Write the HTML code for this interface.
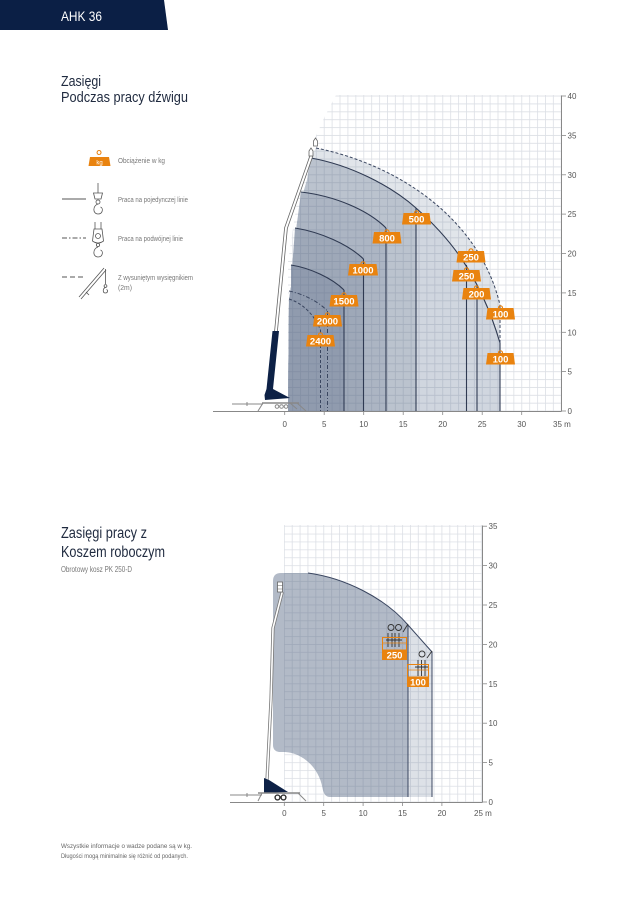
<!DOCTYPE html>
<html><head><meta charset="utf-8"><style>
html,body{margin:0;padding:0;background:#fff;}
svg{display:block;}
text{font-family:"Liberation Sans",sans-serif;}
</style></head><body>
<svg width="637" height="900" viewBox="0 0 637 900" xmlns="http://www.w3.org/2000/svg">
<defs>
<pattern id="g1" x="284.3" y="95.6" width="7.9" height="7.875" patternUnits="userSpaceOnUse">
<path d="M0.4,0 V7.875 M0,0.4 H7.9" stroke="rgba(80,95,125,0.2)" stroke-width="0.8" fill="none"/>
</pattern>
<pattern id="g2" x="283.9" y="525.8" width="7.88" height="7.88" patternUnits="userSpaceOnUse">
<path d="M0.4,0 V7.88 M0,0.4 H7.88" stroke="rgba(80,95,125,0.2)" stroke-width="0.8" fill="none"/>
</pattern>
<clipPath id="c1"><polygon points="336,95 562,95 562,411 288,411 288,262 299,188 314,140 325,116"/></clipPath>
</defs>

<!-- header -->
<polygon points="0,0 164,0 168,30 0,30" fill="#0b1f45"/>
<text x="61" y="21" font-size="14" fill="#fff" textLength="41" lengthAdjust="spacingAndGlyphs">AHK 36</text>

<!-- titles -->
<text x="61" y="86" font-size="15" fill="#1f2a3f" textLength="40" lengthAdjust="spacingAndGlyphs">Zasięgi</text>
<text x="61" y="102" font-size="15" fill="#1f2a3f" textLength="127" lengthAdjust="spacingAndGlyphs">Podczas pracy dźwigu</text>

<!-- legend -->
<g>
<path d="M99,154.5 a2,2 0 1 1 0.1,0" fill="none" stroke="#e9830f" stroke-width="1"/>
<path d="M90,157 H109 L110.5,166 H88.5 Z" fill="#e9830f"/>
<text x="99.5" y="164.5" font-size="6" fill="#fff" text-anchor="middle">kg</text>
<text x="118" y="163" font-size="7" fill="#777" textLength="47" lengthAdjust="spacingAndGlyphs">Obciążenie w  kg</text>

<line x1="62" y1="199" x2="86" y2="199" stroke="#555" stroke-width="1"/>
<g stroke="#555" stroke-width="0.8" fill="none">
<line x1="98" y1="183" x2="98" y2="193"/>
<path d="M93.5,193 H102.5 L101,199 H95 Z" fill="#fff"/>
<circle cx="98" cy="202" r="2"/>
<path d="M98,204 C92.5,205.5 92.5,214 98,214 C103,214 103.5,208 100.5,207"/>
</g>
<text x="118" y="202" font-size="7" fill="#777" textLength="70" lengthAdjust="spacingAndGlyphs">Praca na pojedynczej linie</text>

<line x1="62" y1="238" x2="86" y2="238" stroke="#555" stroke-width="1" stroke-dasharray="5,2,1.5,2"/>
<g stroke="#555" stroke-width="0.8" fill="none">
<line x1="95" y1="222" x2="95" y2="229"/><line x1="101" y1="222" x2="101" y2="229"/>
<path d="M94,229 H102 L103.5,241 Q98,245 92.5,241 Z" fill="#fff"/>
<circle cx="98" cy="236" r="2.5"/>
<circle cx="98" cy="245" r="1.6"/>
<path d="M98,247 C92.5,248.5 92.5,257 98,257 C103,257 103.5,251 100.5,250"/>
</g>
<text x="118" y="241" font-size="7" fill="#777" textLength="65" lengthAdjust="spacingAndGlyphs">Praca na podwójnej linie</text>

<line x1="62" y1="277" x2="86" y2="277" stroke="#555" stroke-width="1" stroke-dasharray="5,3"/>
<g stroke="#555" stroke-width="0.8" fill="none">
<line x1="79" y1="297" x2="104" y2="268"/><line x1="81" y1="299" x2="106" y2="270"/>
<line x1="86" y1="292" x2="89" y2="295"/>
<line x1="105.5" y1="269" x2="105.5" y2="284"/>
<circle cx="105.5" cy="286" r="1.4"/>
<path d="M105.5,287.5 C102.5,288.5 102.5,293 105.5,293 C108,293 108,290 106.5,289.5"/>
</g>
<text x="118" y="280" font-size="7" fill="#777" textLength="75" lengthAdjust="spacingAndGlyphs">Z wysuniętym wysięgnikiem</text>
<text x="118" y="290" font-size="7" fill="#777" textLength="14" lengthAdjust="spacingAndGlyphs">(2m)</text>
</g>

<!-- ================= TOP CHART ================= -->
<path d="M316,148 C400,165 480,220 500,305 L500,411 L288,411 L289,300 L291,287 L293,257 L297,223 L302,197 L307,180 L311,157 Z" fill="#e1e5ea"/>
<path d="M311,158 C350,165 390,185 416,208 C443,232 478,268 500,343 L500,411 L288,411 L289,300 L291,287 L293,257 L297,223 L302,197 L307,180 Z" fill="#d0d6df"/>
<path d="M311,158 C350,165 390,185 416,208 L416,411 L288,411 L289,300 L291,287 L293,257 L297,223 L302,197 L307,180 Z" fill="#bbc3ce"/>
<path d="M301,192 C335,196 368,210 386,228 L386,411 L288,411 L289,300 L291,287 L293,257 L297,223 Z" fill="#acb5c3"/>
<path d="M295,228 C320,232 348,244 363.5,259 L363.5,411 L288,411 L289,300 L291,287 L293,257 Z" fill="#9ea8b8"/>
<path d="M291,265 C310,268 332,278 344,290 L344,411 L288,411 L289,300 L291,287 Z" fill="#909bae"/>

<rect x="284" y="95" width="278" height="317" fill="url(#g1)" clip-path="url(#c1)"/>

<g fill="none" stroke="#2f3a52" stroke-width="1.1">
<path d="M311,158 C350,165 390,185 416,208 C443,232 478,268 500,343"/>
<path d="M301,192 C335,196 368,210 386,228"/>
<path d="M295,228 C320,232 348,244 363.5,259"/>
<path d="M291,265 C310,268 332,278 344,290"/>
<line x1="416" y1="208" x2="416" y2="411"/>
<line x1="386" y1="228" x2="386" y2="411"/>
<line x1="363.5" y1="259" x2="363.5" y2="411"/>
<line x1="344" y1="290" x2="344" y2="411"/>
<line x1="466.5" y1="265" x2="466.5" y2="411"/>
<line x1="477" y1="285" x2="477" y2="411"/>
<line x1="500" y1="343" x2="500" y2="411"/>
</g>
<g fill="none" stroke="#3a4660" stroke-width="1">
<path d="M316,148 C400,165 480,220 500,305" stroke-dasharray="3,2"/>
<line x1="500" y1="305" x2="500" y2="343" stroke-dasharray="3,2"/>
<path d="M289,291 C303,294 318,301 327.5,311" stroke-dasharray="4,2,1,2"/>
<line x1="327.5" y1="311" x2="327.5" y2="411" stroke-dasharray="4,2,1,2"/>
<path d="M289,299 C302,303 314,314 320.5,330" stroke-dasharray="3,2"/>
<line x1="320.5" y1="330" x2="320.5" y2="411" stroke-dasharray="3,2"/>
</g>

<g fill="none" stroke-linecap="round">
<polyline points="311,157 286,228 276,331" stroke="#666" stroke-width="3.6"/>
<polyline points="311,157 286,228 276,331" stroke="#fff" stroke-width="2"/>
<path d="M313.5,141 l2,-3 l2,3 v5 h-4 z" stroke="#666" stroke-width="0.8" fill="#fff"/>
<path d="M309,151 l2,-3 l2,3 v5 h-4 z" stroke="#666" stroke-width="0.8" fill="#fff"/>
</g>
<polygon points="272.5,331 279,331 273,389 290,398 265,400 264.5,395 266.5,389" fill="#0d2146"/>
<g stroke="#888" stroke-width="1" fill="none">
<line x1="232" y1="404" x2="263" y2="404"/>
<line x1="262" y1="403" x2="299" y2="403" stroke-width="1.6"/>
<line x1="263" y1="403" x2="258" y2="411"/>
<line x1="297" y1="403" x2="306" y2="411"/>
<line x1="290" y1="403" x2="297" y2="409"/>
<circle cx="277" cy="406.5" r="1.8"/><circle cx="281.5" cy="406.5" r="1.8"/><circle cx="286" cy="406.5" r="1.8"/>
<line x1="247" y1="402" x2="247" y2="406"/>
</g>

<line x1="213" y1="411.5" x2="561.5" y2="411.5" stroke="#888" stroke-width="1"/>
<line x1="561.5" y1="95.5" x2="561.5" y2="411.5" stroke="#888" stroke-width="1"/>
<g stroke="#888" stroke-width="0.8">
<line x1="561.5" y1="96" x2="566" y2="96"/><line x1="561.5" y1="135.4" x2="566" y2="135.4"/>
<line x1="561.5" y1="174.8" x2="566" y2="174.8"/><line x1="561.5" y1="214.1" x2="566" y2="214.1"/>
<line x1="561.5" y1="253.5" x2="566" y2="253.5"/><line x1="561.5" y1="292.9" x2="566" y2="292.9"/>
<line x1="561.5" y1="332.3" x2="566" y2="332.3"/><line x1="561.5" y1="371.6" x2="566" y2="371.6"/>
<line x1="561.5" y1="411" x2="566" y2="411"/>
<line x1="284.7" y1="411.5" x2="284.7" y2="415"/><line x1="324.2" y1="411.5" x2="324.2" y2="415"/>
<line x1="363.7" y1="411.5" x2="363.7" y2="415"/><line x1="403.2" y1="411.5" x2="403.2" y2="415"/>
<line x1="442.7" y1="411.5" x2="442.7" y2="415"/><line x1="482.2" y1="411.5" x2="482.2" y2="415"/>
<line x1="521.7" y1="411.5" x2="521.7" y2="415"/>
</g>
<g font-size="8" fill="#555">
<text x="567.5" y="99">40</text><text x="567.5" y="138.4">35</text><text x="567.5" y="177.8">30</text>
<text x="567.5" y="217.1">25</text><text x="567.5" y="256.5">20</text><text x="567.5" y="295.9">15</text>
<text x="567.5" y="335.3">10</text><text x="567.5" y="374.6">5</text><text x="567.5" y="414">0</text>
</g>
<g font-size="8" fill="#555" text-anchor="middle">
<text x="284.7" y="427">0</text><text x="324.2" y="427">5</text><text x="363.7" y="427">10</text>
<text x="403.2" y="427">15</text><text x="442.7" y="427">20</text><text x="482.2" y="427">25</text>
<text x="521.7" y="427">30</text>
</g>
<text x="553" y="427" font-size="8" fill="#555">35 m</text>

<g fill="#e9830f">
<path d="M403.5,213 H429.5 L431,224.5 H402 Z"/>
<path d="M374,232 H400 L401.5,243.5 H372.5 Z"/>
<path d="M349.5,264 H376.5 L378,275.5 H348 Z"/>
<path d="M331,295 H357 L358.5,306.5 H329.5 Z"/>
<path d="M314.5,315 H340.5 L342,326.5 H313 Z"/>
<path d="M307.5,335 H333.5 L335,346.5 H306 Z"/>
<path d="M458,251 H484 L485.5,262.5 H456.5 Z"/>
<path d="M453.5,270 H479.5 L481,281.5 H452 Z"/>
<path d="M463.5,288 H489.5 L491,299.5 H462 Z"/>
<path d="M487.5,308 H513.5 L515,319.5 H486 Z"/>
<path d="M487.5,353 H513.5 L515,364.5 H486 Z"/>
</g>
<g fill="none" stroke="#e9830f" stroke-width="1.2">
<path d="M414.5,213 a2,2.2 0 1 1 4,0"/>
<path d="M385,232 a2,2.2 0 1 1 4,0"/>
<path d="M361,264 a2,2.2 0 1 1 4,0"/>
<path d="M342,295 a2,2.2 0 1 1 4,0"/>
<path d="M325.5,315 a2,2.2 0 1 1 4,0"/>
<path d="M318.5,335 a2,2.2 0 1 1 4,0"/>
<path d="M469,251 a2,2.2 0 1 1 4,0"/>
<path d="M464.5,270 a2,2.2 0 1 1 4,0"/>
<path d="M474.5,288 a2,2.2 0 1 1 4,0"/>
<path d="M498.5,308 a2,2.2 0 1 1 4,0"/>
<path d="M498.5,353 a2,2.2 0 1 1 4,0"/>
</g>
<g font-size="9.5" font-weight="bold" fill="#fff" text-anchor="middle">
<text x="416.5" y="222.5">500</text>
<text x="387" y="241.5">800</text>
<text x="363" y="273.5">1000</text>
<text x="344" y="304.5">1500</text>
<text x="327.5" y="324.5">2000</text>
<text x="320.5" y="344.5">2400</text>
<text x="471" y="260.5">250</text>
<text x="466.5" y="279.5">250</text>
<text x="476.5" y="297.5">200</text>
<text x="500.5" y="317.5">100</text>
<text x="500.5" y="362.5">100</text>
</g>

<!-- ================= BOTTOM CHART ================= -->
<text x="61" y="538" font-size="15.5" fill="#1f2a3f" textLength="86" lengthAdjust="spacingAndGlyphs">Zasięgi pracy z</text>
<text x="61" y="557" font-size="15.5" fill="#1f2a3f" textLength="104" lengthAdjust="spacingAndGlyphs">Koszem roboczym</text>
<text x="61" y="572" font-size="8" fill="#777" textLength="71" lengthAdjust="spacingAndGlyphs">Obrotowy kosz PK 250-D</text>

<path d="M273,581 Q273,573 281,573 L308,573 C345,578 385,598 408,625 L408,797 L330,797 Q324,797 322.5,788 C319,768 303,753 285,752 L279,752 Q273,751 273,745 Z" fill="#b2bac7"/>
<path d="M408,625 L432,652 L432,797 L408,797 Z" fill="#dde1e7"/>
<rect x="284" y="525" width="198.5" height="277" fill="url(#g2)"/>
<g fill="none" stroke="#3a4660" stroke-width="1">
<path d="M308,573 C345,578 385,598 408,625 L432,652 L432,797"/>
<line x1="408" y1="625" x2="408" y2="797"/>
</g>
<g fill="none" stroke-linecap="round">
<polyline points="267,780 271,700 273,628 282,593" stroke="#777" stroke-width="3.2"/>
<polyline points="267,780 271,700 273,628 282,593" stroke="#fff" stroke-width="1.6"/>
<rect x="277.5" y="582" width="5" height="10" stroke="#666" stroke-width="0.8" fill="#fff"/>
<line x1="277.5" y1="585.5" x2="282.5" y2="585.5" stroke="#666" stroke-width="0.6"/>
<line x1="277.5" y1="589" x2="282.5" y2="589" stroke="#666" stroke-width="0.6"/>
</g>
<polygon points="264,778 269,780 288,792 264,793" fill="#0d2146"/>
<g stroke="#888" stroke-width="1" fill="none">
<line x1="230" y1="795" x2="262" y2="795"/>
<line x1="258" y1="793" x2="300" y2="793" stroke-width="1.6"/>
<line x1="262" y1="793" x2="258" y2="801"/>
<line x1="298" y1="793" x2="306" y2="801"/>
<line x1="247" y1="793" x2="247" y2="797"/>
</g>
<circle cx="277.5" cy="797.5" r="2.4" fill="#fff" stroke="#333" stroke-width="1.4"/>
<circle cx="283.5" cy="797.5" r="2.4" fill="#fff" stroke="#333" stroke-width="1.4"/>

<g fill="none" stroke="#333" stroke-width="0.9">
<circle cx="391" cy="627.5" r="3"/><circle cx="398.5" cy="627.5" r="3"/>
<line x1="403" y1="632" x2="408" y2="624"/>
<path d="M388,633 v14 M392,633 v14 M395,633 v14 M399,633 v14 M386,640 h16"/>
<circle cx="422" cy="654" r="3"/>
<line x1="427" y1="658" x2="432" y2="651"/>
<path d="M418,660 v16 M421.5,660 v16 M425,660 v16 M415,667 h13"/>
</g>
<rect x="382.5" y="637.5" width="24" height="12.5" fill="none" stroke="#e9830f" stroke-width="1"/>
<line x1="382.5" y1="643" x2="406.5" y2="643" stroke="#e9830f" stroke-width="0.8"/>
<rect x="382" y="650" width="25" height="10" fill="#e9830f"/>
<text x="394.5" y="658.5" font-size="9.5" font-weight="bold" fill="#fff" text-anchor="middle">250</text>
<rect x="407.5" y="664.5" width="21" height="12.5" fill="none" stroke="#e9830f" stroke-width="1"/>
<line x1="407.5" y1="670" x2="428.5" y2="670" stroke="#e9830f" stroke-width="0.8"/>
<rect x="407" y="677" width="22" height="10" fill="#e9830f"/>
<text x="418" y="685.5" font-size="9.5" font-weight="bold" fill="#fff" text-anchor="middle">100</text>

<line x1="230" y1="802.5" x2="482.5" y2="802.5" stroke="#888" stroke-width="1"/>
<line x1="482.5" y1="525.5" x2="482.5" y2="802.5" stroke="#888" stroke-width="1"/>
<g stroke="#888" stroke-width="0.8">
<line x1="482.5" y1="526.2" x2="487" y2="526.2"/><line x1="482.5" y1="565.6" x2="487" y2="565.6"/>
<line x1="482.5" y1="605" x2="487" y2="605"/><line x1="482.5" y1="644.4" x2="487" y2="644.4"/>
<line x1="482.5" y1="683.8" x2="487" y2="683.8"/><line x1="482.5" y1="723.2" x2="487" y2="723.2"/>
<line x1="482.5" y1="762.6" x2="487" y2="762.6"/><line x1="482.5" y1="802" x2="487" y2="802"/>
<line x1="284.3" y1="802.5" x2="284.3" y2="806"/><line x1="323.7" y1="802.5" x2="323.7" y2="806"/>
<line x1="363.1" y1="802.5" x2="363.1" y2="806"/><line x1="402.5" y1="802.5" x2="402.5" y2="806"/>
<line x1="441.9" y1="802.5" x2="441.9" y2="806"/>
</g>
<g font-size="8" fill="#555">
<text x="488.5" y="529.2">35</text><text x="488.5" y="568.6">30</text><text x="488.5" y="608">25</text>
<text x="488.5" y="647.4">20</text><text x="488.5" y="686.8">15</text><text x="488.5" y="726.2">10</text>
<text x="488.5" y="765.6">5</text><text x="488.5" y="805">0</text>
</g>
<g font-size="8" fill="#555" text-anchor="middle">
<text x="284.3" y="816">0</text><text x="323.7" y="816">5</text><text x="363.1" y="816">10</text>
<text x="402.5" y="816">15</text><text x="441.9" y="816">20</text>
</g>
<text x="474" y="816" font-size="8" fill="#555">25 m</text>

<text x="61" y="848" font-size="6" fill="#666" textLength="131" lengthAdjust="spacingAndGlyphs">Wszystkie informacje o wadze podane są w kg.</text>
<text x="61" y="858" font-size="6" fill="#666" textLength="127" lengthAdjust="spacingAndGlyphs">Długości mogą minimalnie się różnić od podanych.</text>
</svg>
</body></html>
